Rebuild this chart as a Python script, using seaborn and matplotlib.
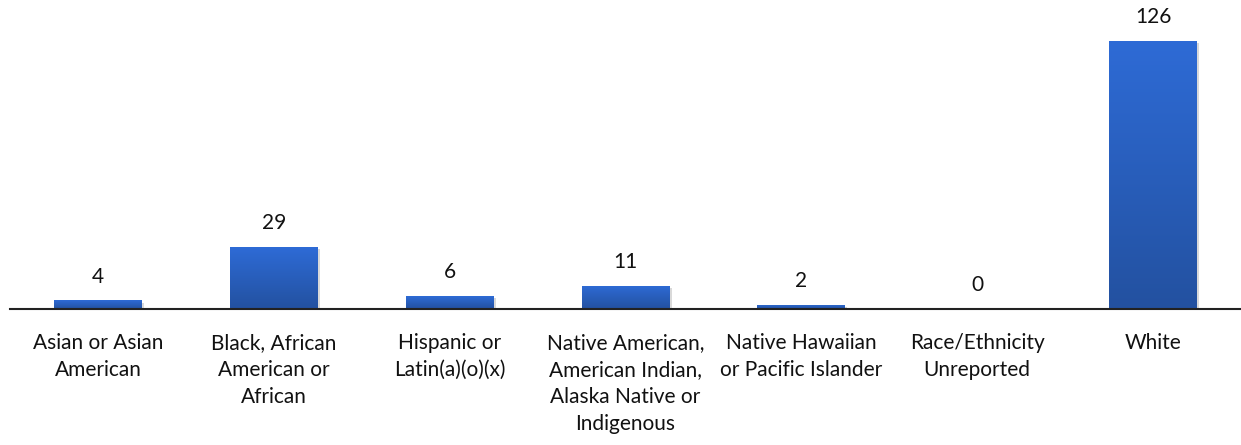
import matplotlib
matplotlib.use("Agg")
import matplotlib.pyplot as plt
import matplotlib.patheffects as pe
from matplotlib.colors import LinearSegmentedColormap
import numpy as np
import pandas as pd
import seaborn as sns

categories = [
    "Asian or Asian\nAmerican",
    "Black, African\nAmerican or\nAfrican",
    "Hispanic or\nLatin(a)(o)(x)",
    "Native American,\nAmerican Indian,\nAlaska Native or\nIndigenous",
    "Native Hawaiian\nor Pacific Islander",
    "Race/Ethnicity\nUnreported",
    "White",
]
counts = [4, 29, 6, 11, 2, 0, 126]

df = pd.DataFrame({"category": categories, "count": counts})

sns.set_style("white")
plt.rcParams["font.family"] = ["Lato", "DejaVu Sans"]

fig = plt.figure(figsize=(12.41, 4.45), dpi=100)
ax = fig.add_axes([10 / 1241, 136 / 445, 1231 / 1241, 298 / 445])

sns.barplot(data=df, x="category", y="count", color="#2A5FC0", width=0.5,
            saturation=1, linewidth=0, ax=ax)

# vertical gradient on each bar, plus a soft shadow
grad_cmap = LinearSegmentedColormap.from_list("bar", ["#2351A0", "#2E6BD6"])
grad = np.linspace(0, 1, 256).reshape(-1, 1)
for bar in ax.patches:
    h = bar.get_height()
    if h <= 0:
        bar.set_visible(False)
        continue
    x0 = bar.get_x()
    w = bar.get_width()
    bar.set_path_effects([pe.SimplePatchShadow(offset=(1.5, -1.5), alpha=0.15,
                                               shadow_rgbFace="black"),
                          pe.Normal()])
    im = ax.imshow(grad, cmap=grad_cmap, aspect="auto", origin="lower",
                   extent=[x0, x0 + w, 0, h], zorder=bar.get_zorder() + 0.1)
    im.set_clip_path(bar)

for i, v in enumerate(counts):
    ax.annotate(str(v), (i, v), xytext=(0, 10), textcoords="offset points",
                ha="center", va="bottom", fontsize=15, color="#111111")

ax.set_xlim(-0.5, 6.5)
ax.set_ylim(0, 140)
ax.set_xlabel("")
ax.set_ylabel("")
ax.set_yticks([])
for side in ["top", "right", "left"]:
    ax.spines[side].set_visible(False)
ax.spines["bottom"].set_color("#222222")
ax.spines["bottom"].set_linewidth(1.5)
ax.tick_params(axis="x", length=0, pad=17, labelsize=15, labelcolor="#111111")
for lbl in ax.get_xticklabels():
    lbl.set_linespacing(1.45)

fig.savefig("out.png", dpi=100)
